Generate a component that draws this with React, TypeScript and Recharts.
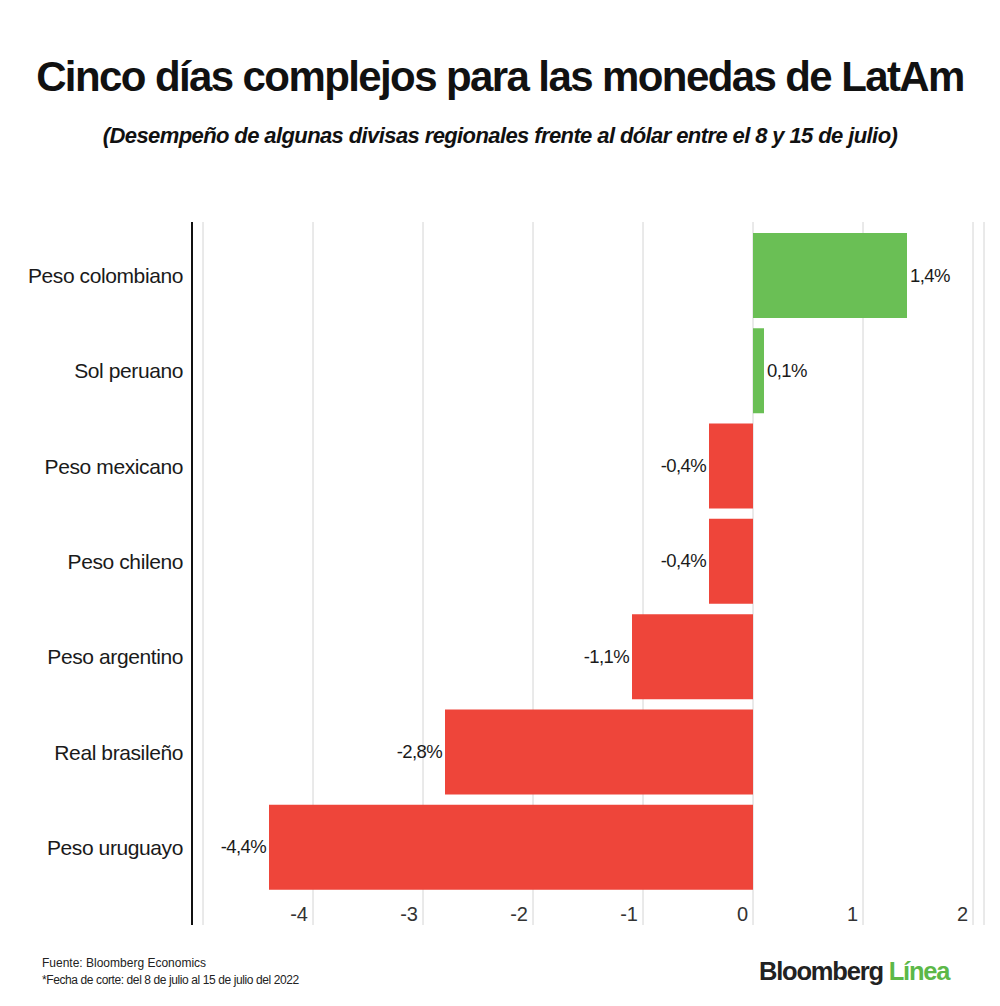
import { BarChart, Bar, XAxis, YAxis, CartesianGrid, Cell, LabelList } from "recharts";

// currencies, top to bottom
const currencies = [
  "Peso colombiano",
  "Sol peruano",
  "Peso mexicano",
  "Peso chileno",
  "Peso argentino",
  "Real brasileño",
  "Peso uruguayo",
];

// % change vs USD, 8-15 July 2022
const changes = [1.4, 0.1, -0.4, -0.4, -1.1, -2.8, -4.4];

const xTicks = [-5, -4, -3, -2, -1, 0, 1, 2];

const GREEN = "#6abf55";
const RED = "#ee453a";
const FONT = "'Liberation Sans', Arial, sans-serif";

const data = currencies.map((name, i) => ({ name, value: changes[i] }));

const fmt = (v: number) => v.toFixed(1).replace(".", ",") + "%";

const XTick = (props: any) => {
  const { x, y, payload } = props;
  if (payload.value === -5) return null;
  return (
    <text
      x={x - 5}
      y={y}
      dy={-12}
      textAnchor="end"
      fontFamily={FONT}
      fontSize={20}
      fill="#333"
    >
      {payload.value}
    </text>
  );
};

const ValueLabel = (props: any) => {
  const { x, y, width, height, value } = props;
  const neg = value < 0;
  // for negative bars the drawn rect starts at the bar end
  const left = Math.min(x, x + width);
  const right = Math.max(x, x + width);
  return (
    <text
      x={neg ? left - 3 : right + 3}
      y={y + height / 2}
      dy={6}
      textAnchor={neg ? "end" : "start"}
      fontFamily={FONT}
      fontSize={18.5}
      fill="#1a1a1a"
      letterSpacing={-0.6}
    >
      {fmt(value)}
    </text>
  );
};

export default function App() {
  return (
    <div
      style={{
        position: "absolute",
        left: 0,
        top: 0,
        width: 1000,
        height: 1006,
        background: "#fff",
        fontFamily: FONT,
        overflow: "hidden",
      }}
    >
      <div
        style={{
          position: "absolute",
          top: 53,
          left: 0,
          width: 1000,
          textAlign: "center",
          fontSize: 42,
          fontWeight: 700,
          letterSpacing: -1.6,
          color: "#111",
        }}
      >
        Cinco días complejos para las monedas de LatAm
      </div>
      <div
        style={{
          position: "absolute",
          top: 123,
          left: 0,
          width: 1000,
          textAlign: "center",
          fontSize: 22,
          fontWeight: 700,
          fontStyle: "italic",
          letterSpacing: -0.6,
          color: "#111",
        }}
      >
        (Desempeño de algunas divisas regionales frente al dólar entre el 8 y 15 de julio)
      </div>

      <div style={{ position: "absolute", top: 0, left: 0 }}>
        <BarChart
          width={1000}
          height={1006}
          data={data}
          layout="vertical"
          margin={{ top: 222, right: 16, bottom: 80, left: 0 }}
          barCategoryGap={5}
        >
          <CartesianGrid horizontal={false} stroke="#d4d4d4" />
          <XAxis
            type="number"
            domain={[-5.1, 2.1]}
            ticks={xTicks}
            height={1}
            axisLine={false}
            tickLine={false}
            tick={<XTick />}
            allowDataOverflow
          />
          <YAxis
            type="category"
            dataKey="name"
            width={192}
            padding={{ top: 6, bottom: 30 }}
            axisLine={{ stroke: "#111", strokeWidth: 2 }}
            tickLine={false}
            tickSize={0}
            tickMargin={9}
            tick={{ fontFamily: FONT, fontSize: 21, fill: "#1a1a1a", letterSpacing: -0.4 }}
          />
          <Bar dataKey="value" isAnimationActive={false}>
            {data.map((d) => (
              <Cell key={d.name} fill={d.value >= 0 ? GREEN : RED} />
            ))}
            <LabelList dataKey="value" content={<ValueLabel />} />
          </Bar>
        </BarChart>
      </div>

      <div
        style={{
          position: "absolute",
          top: 955,
          left: 42,
          fontSize: 12,
          lineHeight: "17px",
          letterSpacing: -0.4,
          color: "#222",
        }}
      >
        <div style={{ letterSpacing: 0 }}>Fuente: Bloomberg Economics</div>
        <div>*Fecha de corte: del 8 de julio al 15 de julio del 2022</div>
      </div>
      <div
        style={{
          position: "absolute",
          top: 957,
          left: 759,
          fontSize: 25.5,
          fontWeight: 700,
          letterSpacing: -1.2,
          color: "#222",
        }}
      >
        Bloomberg <span style={{ color: "#5cb848" }}>Línea</span>
      </div>
    </div>
  );
}
